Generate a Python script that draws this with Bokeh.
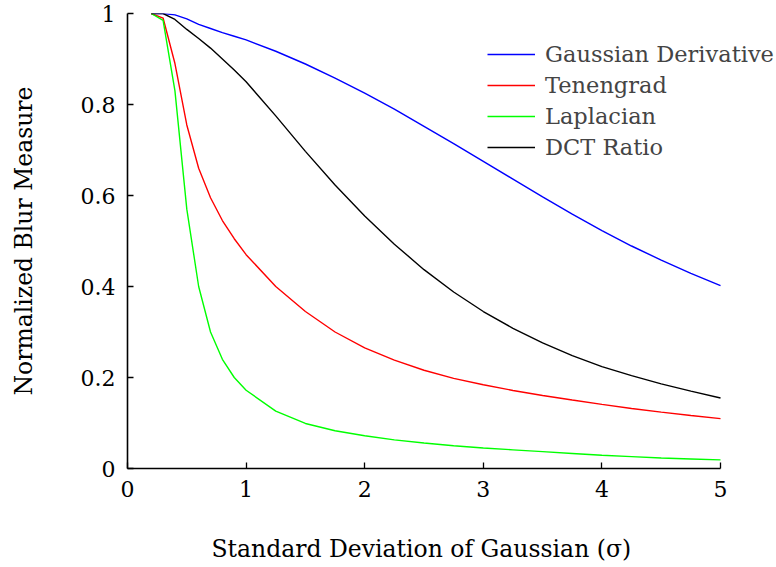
from bokeh.plotting import figure
from bokeh.models import Legend, LegendItem, Range1d, FixedTicker, Title
from bokeh.embed import file_html
from bokeh.resources import INLINE

sigma = [0.2, 0.3, 0.4, 0.5, 0.6, 0.7, 0.8, 0.9, 1.0, 1.25, 1.5, 1.75, 2.0,
         2.25, 2.5, 2.75, 3.0, 3.25, 3.5, 3.75, 4.0, 4.25, 4.5, 4.75, 5.0]

gaussian_derivative = [1.0, 1.0, 0.997, 0.988, 0.976, 0.967, 0.958, 0.95, 0.942,
                       0.917, 0.889, 0.858, 0.825, 0.790, 0.752, 0.714, 0.675,
                       0.636, 0.597, 0.559, 0.523, 0.489, 0.458, 0.429, 0.402]
tenengrad = [1.0, 0.99, 0.89, 0.755, 0.66, 0.595, 0.545, 0.505, 0.47,
             0.40, 0.345, 0.30, 0.265, 0.238, 0.216, 0.198, 0.184,
             0.1715, 0.1605, 0.1505, 0.141, 0.132, 0.124, 0.1165, 0.1095]
laplacian = [1.0, 0.985, 0.83, 0.57, 0.40, 0.30, 0.24, 0.20, 0.172,
             0.126, 0.099, 0.083, 0.072, 0.063, 0.056, 0.050, 0.045,
             0.041, 0.037, 0.033, 0.029, 0.026, 0.023, 0.021, 0.019]
dct_ratio = [1.0, 1.0, 0.987, 0.965, 0.945, 0.924, 0.90, 0.876, 0.85,
             0.775, 0.697, 0.623, 0.555, 0.493, 0.437, 0.388, 0.345,
             0.308, 0.276, 0.248, 0.224, 0.204, 0.186, 0.170, 0.155]

series_names = ["Gaussian Derivative", "Tenengrad", "Laplacian", "DCT Ratio"]
series_values = [gaussian_derivative, tenengrad, laplacian, dct_ratio]
series_colors = ["#0000ff", "#ff0000", "#00ff00", "#000000"]

x_ticks = [0, 1, 2, 3, 4, 5]
y_ticks = [0, 0.2, 0.4, 0.6, 0.8, 1]
y_tick_labels = ["0", "0.2", "0.4", "0.6", "0.8", "1"]

x_label = "Standard Deviation of Gaussian (σ)"
y_label = "Normalized Blur Measure"

FONT = "DejaVu Serif"
TICK_FS = "22px"
LABEL_FS = "23.5px"
LEGEND_FS = "22.5px"

X_MAX = 5.0
X_VIEW_END = 5.472  # frame extends to the page edge; the axis line stops at 5

p = figure(width=776, height=567, output_backend="svg", toolbar_location=None,
           x_range=Range1d(0, X_VIEW_END), y_range=Range1d(0, 1),
           min_border_left=127, min_border_right=0, min_border_top=13,
           min_border_bottom=99)
p.outline_line_color = None
p.grid.visible = False
p.background_fill_color = "white"
p.border_fill_color = "white"

items = []
for name, vals, col in zip(series_names, series_values, series_colors):
    r = p.line(sigma, vals, line_color=col, line_width=1.4)
    items.append(LegendItem(label=name, renderers=[r]))

for ax in (p.xaxis[0], p.yaxis[0]):
    ax.axis_line_width = 1.6
    ax.axis_line_color = "black"
    ax.major_tick_in = 6
    ax.major_tick_out = 0
    ax.major_tick_line_width = 1.3
    ax.minor_tick_line_color = None
    ax.major_label_text_font = FONT
    ax.major_label_text_font_size = TICK_FS
    ax.major_label_text_color = "black"
    ax.axis_label_text_font = FONT
    ax.axis_label_text_font_size = LABEL_FS
    ax.axis_label_text_font_style = "normal"
    ax.axis_label_text_color = "black"

p.xaxis.bounds = (0, X_MAX)
p.xaxis.ticker = FixedTicker(ticks=x_ticks)
p.yaxis.ticker = FixedTicker(ticks=y_ticks)
p.yaxis.major_label_overrides = {t: l for t, l in zip(y_ticks, y_tick_labels)}
p.yaxis.axis_label = y_label
p.xaxis.major_label_standoff = 12
p.yaxis.major_label_standoff = 12
p.yaxis.axis_label_standoff = 40

# x-axis title, centred under the 0..5 axis (the frame itself is wider)
xt = Title(text=x_label, align="left", offset=84, standoff=0,
           text_font=FONT, text_font_size=LABEL_FS, text_font_style="normal",
           text_color="black")
try:
    xt.padding = dict(top=33, right=0, bottom=0, left=0)
except Exception:
    xt.padding = (33, 0, 0, 0)
p.add_layout(xt, "below")

legend = Legend(items=items, location=(360, 306), padding=0, margin=0,
                spacing=1, label_height=30, glyph_height=30, glyph_width=48,
                label_standoff=10, border_line_color=None,
                background_fill_alpha=0,
                label_text_font=FONT, label_text_font_size=LEGEND_FS)
p.add_layout(legend, "center")

open("out.html", "w").write(file_html(p, INLINE))
